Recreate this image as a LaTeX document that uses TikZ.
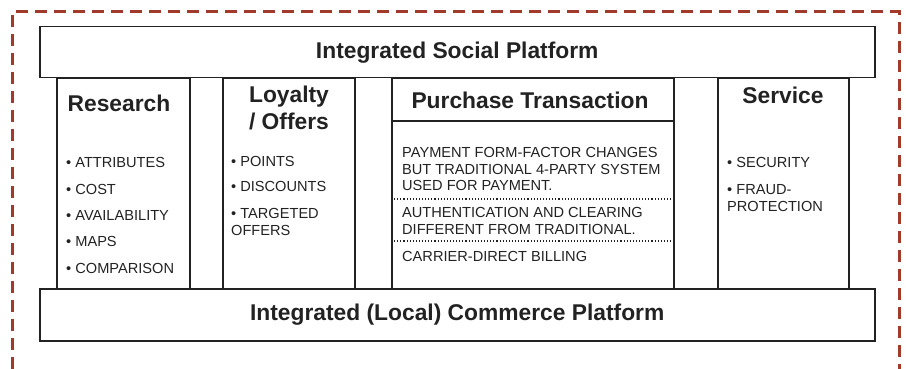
\documentclass[tikz,border=0pt]{standalone}
\usepackage{fontspec}
\setmainfont{Liberation Sans}
\definecolor{framered}{HTML}{A23A2B}
\definecolor{ink}{HTML}{222222}
\begin{document}
\begin{tikzpicture}[x=1pt,y=-1pt,
    box/.style={draw=ink,line width=1.5pt,anchor=north west,inner sep=0pt},
    head/.style={font=\fontsize{22.8}{27}\selectfont\bfseries,text=ink,align=center},
    item/.style={font=\fontsize{14.6}{16.8}\selectfont,text=ink,anchor=west,align=left,inner sep=0pt}]
        \useasboundingbox (0,0) rectangle (906,369);
        % dashed frame, open at the bottom
        \draw[framered,line width=3pt,dash pattern=on 12pt off 7pt] (12,369) -- (12,12) -- (899,12) -- (899,369);
        % platforms
        \node[box,minimum width=835pt,minimum height=51pt] (social) at (39,26) {};
        \node[head] (socialT) at (social.center) {Integrated Social Platform};
        \node[box,minimum width=835pt,minimum height=52pt] (commerce) at (39,288) {};
        \node[head] (commerceT) at (commerce.center) {Integrated (Local) Commerce Platform};
        % pillars
        \node[box,minimum width=133pt,minimum height=210pt] (research) at (56,78) {};
        \node[box,minimum width=132pt,minimum height=210pt] (loyalty) at (222,78) {};
        \node[box,minimum width=282pt,minimum height=210pt] (purchase) at (391,78) {};
        \node[box,minimum width=131pt,minimum height=210pt] (service) at (717,78) {};
        % research
        \node[head] (researchT) at (119,103) {Research};
        \node[item] (r1) at (66,162) {\textbullet{} ATTRIBUTES};
        \node[item] (r2) at (66,189) {\textbullet{} COST};
        \node[item] (r3) at (66,215) {\textbullet{} AVAILABILITY};
        \node[item] (r4) at (66,241) {\textbullet{} MAPS};
        \node[item] (r5) at (66,268) {\textbullet{} COMPARISON};
        % loyalty
        \node[head] (loyaltyT) at (289,108) {Loyalty\\/ Offers};
        \node[item] (l1) at (231,161) {\textbullet{} POINTS};
        \node[item] (l2) at (231,186) {\textbullet{} DISCOUNTS};
        \node[item] (l3) at (231,222) {\textbullet{} TARGETED\\OFFERS};
        % purchase transaction
        \node[head] (purchaseT) at (530,100) {Purchase Transaction};
        \coordinate (p0) at (391,121);
        \coordinate (p1) at (391,199);
        \coordinate (p2) at (391,241);
        \draw[ink,line width=1.3pt] (p0) -- (p0 -| purchase.east);
        \draw[ink,line width=1.1pt,dotted] (p1) -- (p1 -| purchase.east);
        \draw[ink,line width=1.1pt,dotted] (p2) -- (p2 -| purchase.east);
        \node[item] (t1) at (402,169) {PAYMENT FORM-FACTOR CHANGES\\BUT TRADITIONAL 4-PARTY SYSTEM\\USED FOR PAYMENT.};
        \node[item] (t2) at (402,221) {AUTHENTICATION AND CLEARING\\DIFFERENT FROM TRADITIONAL.};
        \node[item] (t3) at (402,256) {CARRIER-DIRECT BILLING};
        % service
        \node[head] (serviceT) at (783,95) {Service};
        \node[item] (s1) at (727,162) {\textbullet{} SECURITY};
        \node[item] (s2) at (727,198) {\textbullet{} FRAUD-\\PROTECTION};
    \end{tikzpicture}
\end{document}
